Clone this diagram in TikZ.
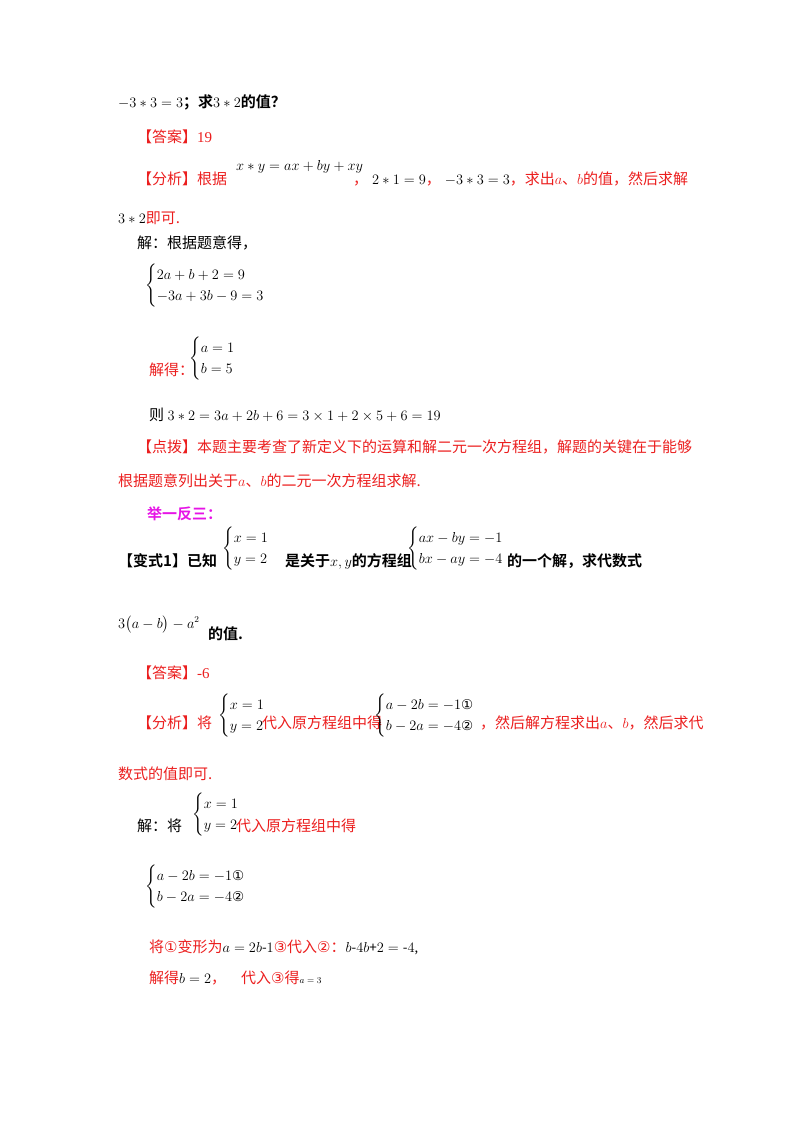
\documentclass[tikz,border=0pt]{standalone}
\usepackage{amsmath}
\usepackage{fontspec}
\setmainfont{Liberation Serif}
\newfontfamily\cjkX{Noto Sans CJK SC}
\newfontfamily\cjkbX{Noto Sans CJK SC Bold}
\newcommand{\cjk}{\cjkX\fontsize{15}{18}\selectfont}
\newcommand{\cjkb}{\cjkbX\fontsize{15}{18}\selectfont}
\newcommand{\mm}[1]{{\fontsize{13.5}{16}\selectfont$#1$}}
\newfontfamily\djv{DejaVu Sans}
\newcommand{\ca}{\text{\djv ①}}
\newcommand{\cb}{\text{\djv ②}}
\newcommand{\cc}{{\djv ③}}
\definecolor{rd}{RGB}{235,30,30}
\definecolor{mg}{RGB}{230,20,230}
\tikzset{t/.style={anchor=base west,inner sep=0pt,font=\fontsize{13.5}{17}\selectfont},
 r/.style={t,text=rd}}
\begin{document}
\begin{tikzpicture}[x=1pt,y=-1pt]
\useasboundingbox (0,0) rectangle (800,1132);
\node[t] (l1) at (118,107) {\mm{-3*3=3}\cjkb；求\mm{3*2}\cjkb 的值？};
\node[r] (l2) at (137,142) {\cjk【答案】\normalfont 19};
\node[r] (l3a) at (137,184) {\cjk【分析】根据};
\node[t] (l3b) at (236,170) {$x*y=ax+by+xy$};
\node[r] (l3c) at (353,184) {\cjk，\textcolor{black}{\mm{\;2*1=9}}，\textcolor{black}{\mm{\;-3*3=3}}，求出\mm{a}、\mm{b}的值，然后求解};
\node[r] (l4) at (118,223) {\textcolor{black}{$3*2$}\cjk 即可.};
\node[t] (l5) at (137,248) {\cjk 解：根据题意得，};
\node[t,anchor=west] (s1) at (145,286) {$\begin{cases}2a+b+2=9\\-3a+3b-9=3\end{cases}$};
\node[r] (l6) at (149,375) {\cjk 解得：};
\node[t,anchor=west] (s2) at (189,359) {$\begin{cases}a=1\\b=5\end{cases}$};
\node[t] (l7) at (149,420) {\cjk 则 \mm{3*2=3a+2b+6=3\times1+2\times5+6=19}};
\node[r] (l8) at (137,452) {\cjk【点拨】本题主要考查了新定义下的运算和解二元一次方程组，解题的关键在于能够};
\node[r] (l9) at (118,486) {\cjk 根据题意列出关于\mm{a}、\mm{b}的二元一次方程组求解.};
\node[t,text=mg] (l10) at (147,519) {\cjkb 举一反三：};
\node[t] (l11a) at (118,566) {\cjkb【变式1】已知};
\node[t,anchor=west] (s3) at (222,549) {$\begin{cases}x=1\\y=2\end{cases}$};
\node[t] (l11b) at (285,566) {\cjkb 是关于\mm{x,y}\cjkb 的方程组};
\node[t,anchor=west] (s4) at (407,549) {$\begin{cases}ax-by=-1\\bx-ay=-4\end{cases}$};
\node[t] (l11c) at (507,566) {\cjkb 的一个解，求代数式};
\node[t] (l12a) at (118,628) {$3\big(a-b\big)-a^2$};
\node[t] (l12b) at (208,639) {\cjkb 的值.};
\node[r] (l13) at (137,678) {\cjk【答案】\normalfont -6};
\node[r] (l14a) at (137,728) {\cjk【分析】将};
\node[t,anchor=west] (s5) at (218,716) {$\begin{cases}x=1\\y=2\end{cases}$};
\node[r] (l14b) at (262,728) {\cjk 代入原方程组中得};
\node[t,anchor=west] (s6) at (374,716) {$\begin{cases}a-2b=-1\ca\\b-2a=-4\cb\end{cases}$};
\node[r] (l14c) at (480,728) {\cjk，然后解方程求出\mm{a}、\mm{b}，然后求代};
\node[r] (l15) at (118,779) {\cjk 数式的值即可.};
\node[t] (l16a) at (137,831) {\cjk 解：将};
\node[t,anchor=west] (s7) at (192,815) {$\begin{cases}x=1\\y=2\end{cases}$};
\node[r] (l16b) at (236,831) {\cjk 代入原方程组中得};
\node[t,anchor=west] (s8) at (145,887) {$\begin{cases}a-2b=-1\ca\\b-2a=-4\cb\end{cases}$};
\node[r] (l17) at (149,952) {\cjk 将\ca 变形为\textcolor{black}{\mm{a=2b\text{-}1}}\cc 代入\cb：\textcolor{black}{\mm{b\text{-}4b\text{+}2=\text{-}4}}\normalfont\textcolor{black}{,}};
\node[r] (l18) at (149,983) {\cjk 解得\textcolor{black}{\mm{b=2}}，\quad 代入\cc 得\textcolor{black}{\small$a=3$}};
\end{tikzpicture}
\end{document}
